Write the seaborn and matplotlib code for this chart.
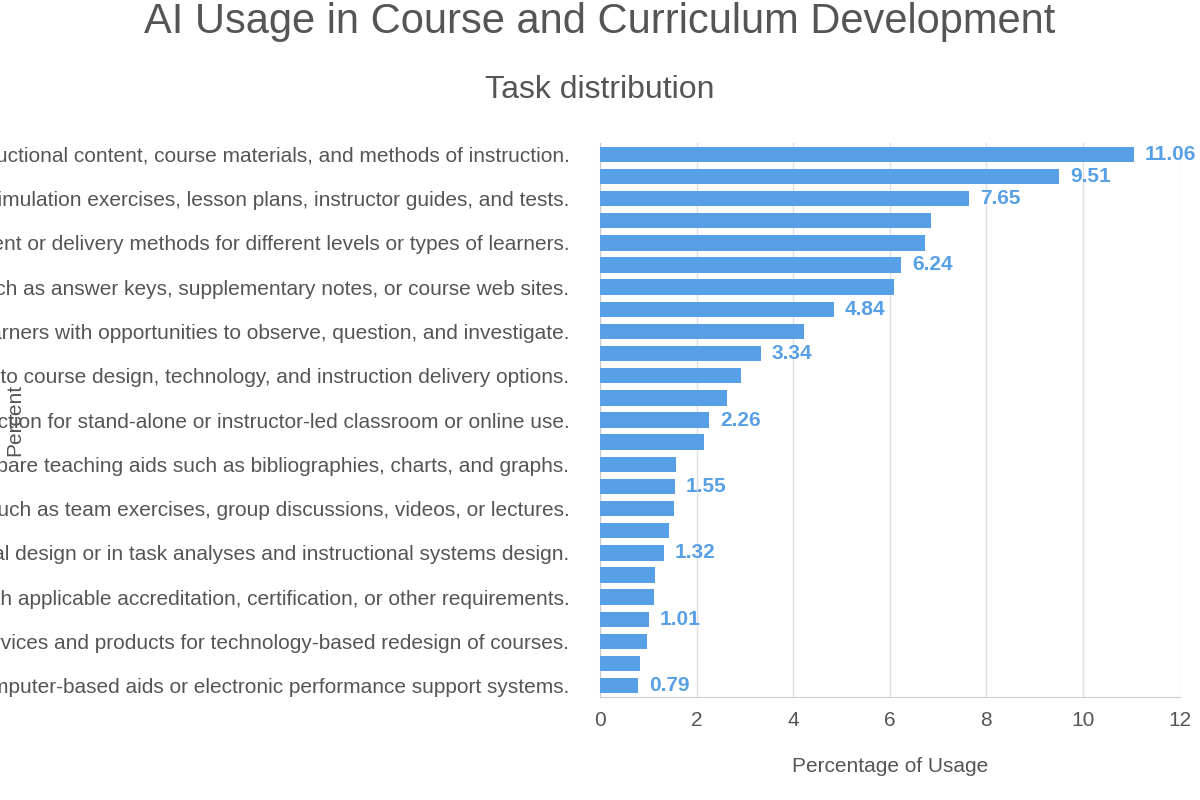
import matplotlib.pyplot as plt
import seaborn as sns
import pandas as pd

plt.rcParams["font.family"] = "Liberation Sans"

# --- data ---
tasks = [
    "Develop or update instructional content, course materials, and methods of instruction.",
    "Develop instructional materials and products.",
    "Create instructional materials such as simulation exercises, lesson plans, instructor guides, and tests.",
    "Assess learners' needs and learning outcomes.",
    "Adapt instructional content or delivery methods for different levels or types of learners.",
    "Research and evaluate emerging instructional technologies.",
    "Develop supporting materials such as answer keys, supplementary notes, or course web sites.",
    "Edit and proofread instructional materials.",
    "Design learning products that provide learners with opportunities to observe, question, and investigate.",
    "Analyze performance data to determine training effectiveness.",
    "Recommend changes to course design, technology, and instruction delivery options.",
    "Interview subject matter experts.",
    "Develop instruction for stand-alone or instructor-led classroom or online use.",
    "Define instructional, learning, or performance objectives.",
    "Prepare teaching aids such as bibliographies, charts, and graphs.",
    "Observe instruction and provide feedback to instructors.",
    "Design learning activities such as team exercises, group discussions, videos, or lectures.",
    "Develop measurement tools to evaluate effectiveness.",
    "Provide technical support to clients in instructional design or in task analyses and instructional systems design.",
    "Conduct needs assessments and job analyses.",
    "Review instructional materials for compliance with applicable accreditation, certification, or other requirements.",
    "Present and explain instructional systems to clients.",
    "Research and evaluate emerging services and products for technology-based redesign of courses.",
    "Train instructors and staff in instructional methods.",
    "Develop or design computer-based aids or electronic performance support systems.",
]
usage = [11.06, 9.51, 7.65, 6.85, 6.72, 6.24, 6.08, 4.84, 4.22, 3.34, 2.92, 2.63, 2.26,
         2.15, 1.57, 1.55, 1.53, 1.43, 1.32, 1.14, 1.12, 1.01, 0.97, 0.83, 0.79]
# bars whose value is printed in the reference
labelled = [0, 1, 2, 5, 7, 9, 12, 15, 18, 21, 24]

df = pd.DataFrame({"Task": tasks, "Usage": usage})

bar_color = "#58a0e6"
text_gray = "#555555"

fig = plt.figure(figsize=(12, 8), dpi=100)
ax = fig.add_axes([0.5, 0.129, 0.483, 0.692])
sns.barplot(data=df, x="Usage", y="Task", color=bar_color, saturation=1,
            width=0.7, ax=ax, zorder=3)

ax.set_xlim(0, 12)
ax.set_ylim(len(tasks) - 0.5, -0.5)
ax.set_xticks(range(0, 13, 2))
ax.tick_params(axis="x", labelsize=15, colors=text_gray, length=0, pad=10)
ax.tick_params(axis="y", length=0, pad=22)

# only every other task label is shown
ax.set_yticks(range(len(tasks)))
ax.set_yticklabels([t if i % 2 == 0 else "" for i, t in enumerate(tasks)],
                   fontsize=15, color=text_gray)

for i in labelled:
    ax.text(usage[i] + 0.22, i, f"{usage[i]:.2f}", va="center", ha="left",
            fontsize=15, fontweight="bold", color=bar_color, zorder=4)

ax.grid(axis="x", color="#e0e0e0", linewidth=1, zorder=0)
for s in ["top", "right"]:
    ax.spines[s].set_visible(False)
ax.spines["left"].set_color("#cccccc")
ax.spines["bottom"].set_color("#cccccc")

ax.set_xlabel("Percentage of Usage", fontsize=15, color=text_gray, labelpad=20)
ax.set_ylabel("")
fig.text(0.012, 0.475, "Percent", rotation=90, fontsize=15, color=text_gray,
         ha="center", va="center")

fig.text(0.5, 0.972, "AI Usage in Course and Curriculum Development", fontsize=30,
         color=text_gray, ha="center", va="center")
fig.text(0.5, 0.888, "Task distribution", fontsize=23, color=text_gray,
         ha="center", va="center")

fig.savefig("out.png", dpi=100)
